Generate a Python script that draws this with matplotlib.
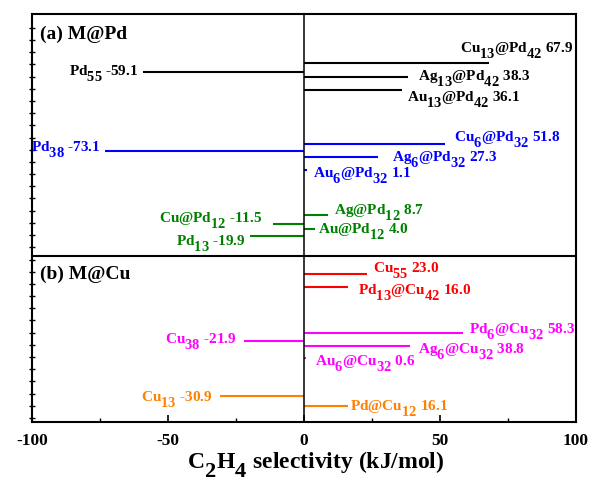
import numpy as np
import matplotlib
matplotlib.use("Agg")
import matplotlib.pyplot as plt
from matplotlib.ticker import FixedLocator, MultipleLocator
import matplotlib._mathtext as _mt

# Origin-style subscripts: nearly full size, dropped lower
_mt.SHRINK_FACTOR = 0.95
_mt.FontConstantsBase.sub1 = 0.9

plt.rcParams['font.family'] = ['Liberation Serif', 'DejaVu Serif']
plt.rcParams['font.weight'] = 'bold'
plt.rcParams['mathtext.fontset'] = 'custom'
plt.rcParams['mathtext.rm'] = 'Liberation Serif:bold'
plt.rcParams['mathtext.it'] = 'Liberation Serif:bold'
plt.rcParams['mathtext.bf'] = 'Liberation Serif:bold'
plt.rcParams['mathtext.default'] = 'rm'

# ---------------- data ----------------
labels = [
    "Cu$_{13}$@Pd$_{42}$", "Pd$_{55}$", "Ag$_{13}$@Pd$_{42}$", "Au$_{13}$@Pd$_{42}$",
    "Cu$_{6}$@Pd$_{32}$", "Pd$_{38}$", "Ag$_{6}$@Pd$_{32}$", "Au$_{6}$@Pd$_{32}$",
    "Ag@Pd$_{12}$", "Cu@Pd$_{12}$", "Au@Pd$_{12}$", "Pd$_{13}$",
    "Cu$_{55}$", "Pd$_{13}$@Cu$_{42}$",
    "Pd$_{6}$@Cu$_{32}$", "Cu$_{38}$", "Ag$_{6}$@Cu$_{32}$", "Au$_{6}$@Cu$_{32}$",
    "Cu$_{13}$", "Pd@Cu$_{12}$",
]
values = [67.9, -59.1, 38.3, 36.1,
          51.8, -73.1, 27.3, 1.1,
          8.7, -11.5, 4.0, -19.9,
          23.0, 16.0,
          58.3, -21.9, 38.8, 0.6,
          -30.9, 16.1]
groups = ["k", "k", "k", "k",
          "b", "b", "b", "b",
          "g", "g", "g", "g",
          "r", "r",
          "m", "m", "m", "m",
          "o", "o"]
x_ticks = [-100, -50, 0, 50, 100]
panel_titles = ["(a) M@Pd", "(b) M@Cu"]
x_label = "C$_2$H$_4$ selectivity (kJ/mol)"

# ---------------- layout / style ----------------
colors = {"k": "#000000", "b": "#0000FF", "g": "#008000",
          "r": "#FF0000", "m": "#FF00FF", "o": "#FF8000"}
row_y = [63, 72, 77, 90,
         144, 151, 157, 170,
         215, 224, 229, 236,
         274, 287,
         333, 341, 346, 358,
         396, 406]
# label offsets (pixels) relative to bar end; dy positive = up
offsets = [(-29, 10), (-5, -4), (10, -4), (5, -12),
           (9, 2), (-4, -1), (14, -5), (6, -8),
           (6, 0), (-10, 1), (3, -5), (-4, -10),
           (6, 1), (10, -8),
           (6, -1), (-8, -3), (8, -8), (9, -8),
           (-8, -6), (2, -5)]
Y_TOP, Y_BOT, Y_DIV = 14, 422.3, 255.5

W, H = 592, 488
fig = plt.figure(figsize=(W / 100, H / 100), dpi=100)
ax = fig.add_axes([32 / W, (H - Y_BOT) / H, (576 - 32) / W, (Y_BOT - Y_TOP) / H])
ax.set_xlim(-100, 100)
ax.set_ylim(Y_BOT, Y_TOP)

for lab, v, g, y, (dx, dy) in zip(labels, values, groups, row_y, offsets):
    c = colors[g]
    ax.plot([0, v], [y, y], color=c, lw=1.5, solid_capstyle='butt')
    ha = 'left' if v >= 0 else 'right'
    ax.annotate(f"{lab} {v:.1f}", xy=(v, y), xytext=(dx, dy),
                textcoords='offset pixels', ha=ha, va='baseline',
                color=c, fontsize=11, fontweight='bold')

ax.axvline(0, color='black', lw=1.1)
ax.axhline(Y_DIV, color='black', lw=1.5)

fig.text(40 / W, 1 - 39 / H, panel_titles[0], fontsize=14,
         fontweight='bold', va='baseline')
fig.text(40 / W, 1 - 279 / H, panel_titles[1], fontsize=14,
         fontweight='bold', va='baseline')

for s in ax.spines.values():
    s.set_linewidth(1.5)

ax.xaxis.set_major_locator(FixedLocator(x_ticks))
ax.set_xticklabels([str(t) for t in x_ticks])
ax.xaxis.set_minor_locator(MultipleLocator(25))
ax.tick_params(axis='x', which='major', direction='in', length=5, width=1.2,
               labelsize=12.5, pad=8, top=False)
ax.tick_params(axis='x', which='minor', direction='in', length=3, width=1.0, top=False)

ax.yaxis.set_major_locator(FixedLocator([]))
ax.yaxis.set_minor_locator(FixedLocator(np.arange(Y_TOP + 13.7, Y_BOT, 12.2)))
ax.tick_params(axis='y', which='minor', direction='inout', length=4, width=1.0,
               right=False, labelleft=False)

for lab in ax.get_xticklabels():
    lab.set_fontweight('bold')

fig.text(316 / W, 1 - 468 / H, x_label, ha='center', va='baseline',
         fontsize=17, fontweight='bold')

fig.savefig("out.png", dpi=100)
